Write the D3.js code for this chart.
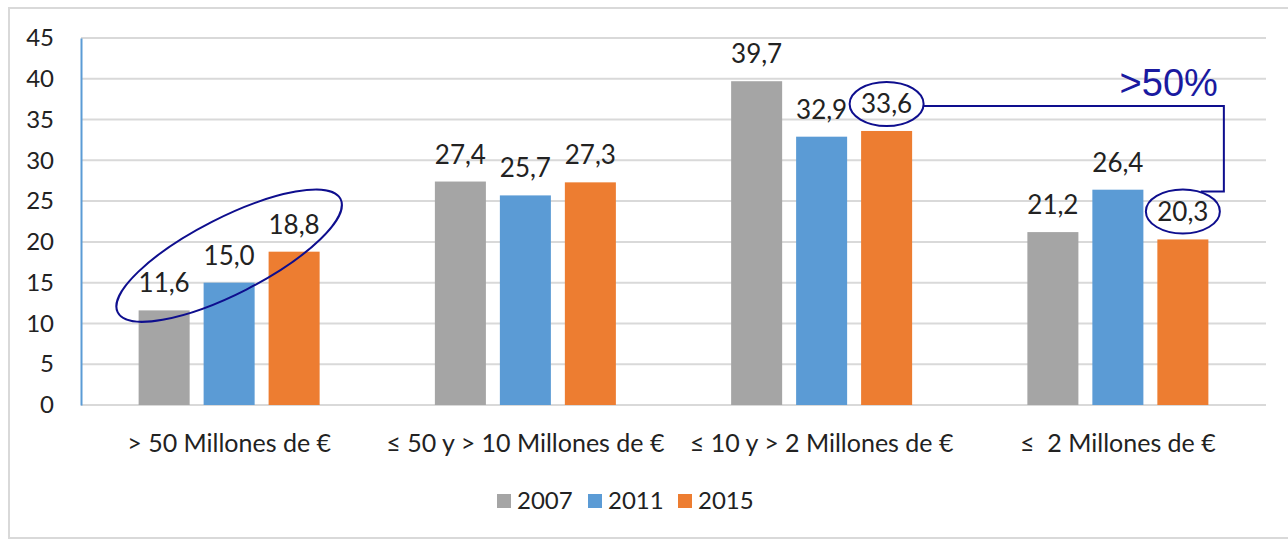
<!DOCTYPE html>
<html>
<head>
<meta charset="utf-8">
<script src="https://cdn.jsdelivr.net/npm/d3@7"></script>
<style>
  body { margin: 0; background: #fff; }
  svg { display: block; font-family: Lato, "Open Sans", sans-serif; }
</style>
</head>
<body>
<div id="chart"></div>
<script>
const categories = ["> 50 Millones de €", "≤ 50 y > 10 Millones de €", "≤ 10 y > 2 Millones de €", "≤  2 Millones de €"];
const years = ["2007", "2011", "2015"];
const v2007 = [11.6, 27.4, 39.7, 21.2];
const v2011 = [15.0, 25.7, 32.9, 26.4];
const v2015 = [18.8, 27.3, 33.6, 20.3];
const yTicks = [0, 5, 10, 15, 20, 25, 30, 35, 40, 45];
const colors = ["#A5A5A5", "#5B9BD5", "#ED7D31"];

const W = 1288, H = 541;
const margin = { left: 81, right: 22, top: 38, bottom: 136 };

const svg = d3.select("#chart").append("svg")
  .attr("width", W)
  .attr("height", H);

// outer frame
svg.append("rect")
  .attr("x", 9).attr("y", 8)
  .attr("width", W + 10).attr("height", 530)
  .attr("fill", "#fff")
  .attr("stroke", "#D9D9D9")
  .attr("stroke-width", 2);

const x0 = d3.scaleBand()
  .domain(categories)
  .range([margin.left, W - margin.right]);

const x1 = d3.scaleBand()
  .domain(years)
  .range([x0.bandwidth() / 2 - 90.5, x0.bandwidth() / 2 + 90.5])
  .paddingInner(0.215);

const y = d3.scaleLinear()
  .domain([0, 45])
  .range([H - margin.bottom, margin.top]);

// gridlines
svg.append("g")
  .selectAll("line")
  .data(yTicks)
  .enter()
  .append("line")
  .attr("x1", margin.left)
  .attr("x2", W - margin.right)
  .attr("y1", d => y(d))
  .attr("y2", d => y(d))
  .attr("stroke", "#D9D9D9")
  .attr("stroke-width", 2);

// y axis
const yAxis = svg.append("g")
  .attr("transform", `translate(${margin.left},0)`)
  .call(d3.axisLeft(y).tickValues(yTicks).tickSize(0).tickPadding(27).tickFormat(d3.format("d")));
yAxis.select(".domain").attr("stroke", "#5B9BD5").attr("stroke-width", 2);
yAxis.selectAll("text")
  .attr("font-family", "Lato, sans-serif")
  .attr("font-size", 24)
  .attr("fill", "#222");

const rows = categories.map((c, i) => ({ cat: c, vals: [v2007[i], v2011[i], v2015[i]] }));

const groups = svg.append("g")
  .selectAll("g")
  .data(rows)
  .enter()
  .append("g")
  .attr("transform", d => `translate(${x0(d.cat)},0)`);

groups.selectAll("rect")
  .data(d => d.vals.map((v, j) => ({ year: years[j], v: v, j: j })))
  .enter()
  .append("rect")
  .attr("x", d => x1(d.year))
  .attr("y", d => y(d.v))
  .attr("width", x1.bandwidth())
  .attr("height", d => y(0) - y(d.v))
  .attr("fill", d => colors[d.j]);

groups.selectAll("text")
  .data(d => d.vals.map((v, j) => ({ year: years[j], v: v })))
  .enter()
  .append("text")
  .attr("x", d => x1(d.year) + x1.bandwidth() / 2)
  .attr("y", d => y(d.v) - 18)
  .attr("text-anchor", "middle")
  .attr("font-size", 26)
  .attr("fill", "#222")
  .text(d => d3.format(".1f")(d.v).replace(".", ","));

// category labels
svg.append("g")
  .selectAll("text")
  .data(categories)
  .enter()
  .append("text")
  .attr("x", d => x0(d) + x0.bandwidth() / 2)
  .attr("y", 452)
  .attr("text-anchor", "middle")
  .attr("font-size", 25)
  .attr("fill", "#222")
  .style("white-space", "pre")
  .text(d => d);

// legend
const legendX = [497, 588, 678];
const legend = svg.append("g")
  .selectAll("g")
  .data(years)
  .enter()
  .append("g")
  .attr("transform", (d, i) => `translate(${legendX[i]},494)`);
legend.append("rect")
  .attr("width", 14).attr("height", 14)
  .attr("fill", (d, i) => colors[i]);
legend.append("text")
  .attr("x", 20).attr("y", 15)
  .attr("font-size", 24)
  .attr("fill", "#222")
  .text(d => d);

// annotations
const navy = "#0E0E8E";
const cx = (ci, yi) => x0(categories[ci]) + x1(years[yi]) + x1.bandwidth() / 2;

svg.append("ellipse")
  .attr("cx", cx(0, 1))
  .attr("cy", y(v2011[0]) - 27)
  .attr("rx", 125).attr("ry", 38)
  .attr("transform", `rotate(-27,${cx(0, 1)},${y(v2011[0]) - 27})`)
  .attr("fill", "none").attr("stroke", navy).attr("stroke-width", 2);

const e2 = { x: cx(2, 2), y: y(v2015[2]) - 27 };
const e3 = { x: cx(3, 2), y: y(v2015[3]) - 28 };
[e2, e3].forEach(e => {
  svg.append("ellipse")
    .attr("cx", e.x).attr("cy", e.y)
    .attr("rx", 37).attr("ry", 22)
    .attr("fill", "none").attr("stroke", navy).attr("stroke-width", 2);
});

const bx = e3.x + 41;
svg.append("path")
  .attr("d", `M${e2.x + 37},${e2.y + 2}H${bx}V${e3.y - 20}H${e3.x + 18}`)
  .attr("fill", "none").attr("stroke", navy).attr("stroke-width", 2);

svg.append("text")
  .attr("x", bx - 6)
  .attr("y", e2.y - 8)
  .attr("text-anchor", "end")
  .attr("font-family", "Liberation Sans, Arial, sans-serif")
  .attr("font-size", 38)
  .attr("fill", "#1A1AA0")
  .text(">50%");
</script>
</body>
</html>
